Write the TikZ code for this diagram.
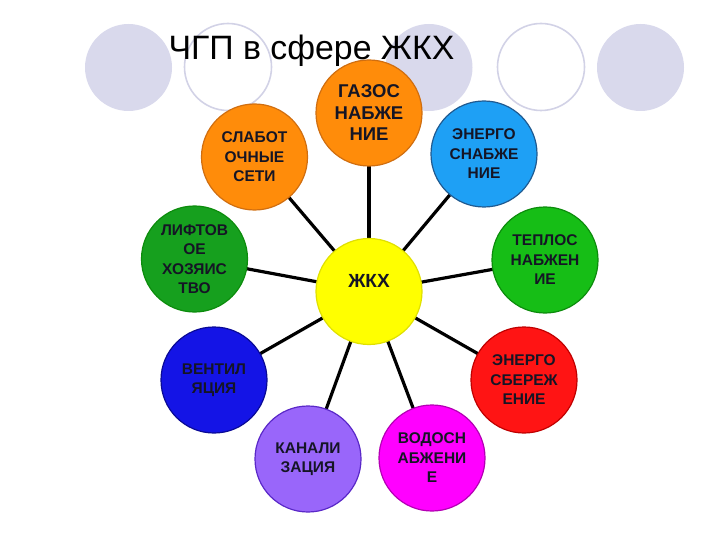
\documentclass[tikz,border=0pt]{standalone}
\usepackage{fontspec}
\setmainfont{Liberation Sans}
\usepackage{tikz}
\usetikzlibrary{shapes, backgrounds}
\definecolor{decofill}{HTML}{D9D9EC}
\definecolor{decoline}{HTML}{D2D2E6}
\definecolor{orangefill}{HTML}{FF8C0A}
\definecolor{orangeline}{HTML}{D06E10}
\definecolor{skyfill}{HTML}{1EA0F5}
\definecolor{skyline}{HTML}{205A90}
\definecolor{greenfill}{HTML}{16BE16}
\definecolor{greenline}{HTML}{0C8C0C}
\definecolor{darkgreenfill}{HTML}{16A01E}
\definecolor{bluefill}{HTML}{1414E6}
\definecolor{blueline}{HTML}{0A0A96}
\definecolor{purplefill}{HTML}{9966FA}
\definecolor{purpleline}{HTML}{5A28C8}
\definecolor{magentafill}{HTML}{FF00FF}
\definecolor{magentaline}{HTML}{B400B4}
\definecolor{redfill}{HTML}{FF1414}
\definecolor{redline}{HTML}{C00000}
\definecolor{yellowfill}{HTML}{FFFF00}
\definecolor{yellowline}{HTML}{E0E000}
\definecolor{txt}{HTML}{151525}
\tikzstyle{deco} = [circle, minimum size = 87pt, inner sep = 0pt]
\tikzstyle{decofull} = [deco, fill = decofill]
\tikzstyle{decoring} = [deco, draw = decoline, line width = 1.6pt]
\tikzstyle{snode} = [circle, minimum size = 106pt, inner sep = 0pt, line width = 1.2pt, align = center, text = txt, font = \fontsize{15.5}{19.5}\selectfont\bfseries]
\tikzstyle{line} = [draw, line width = 3.2pt]

\begin{document}
\begin{tikzpicture}[x=1pt, y=-1pt]
			\useasboundingbox (0,0) rectangle (720,540);
			% background circles
			\node [decofull] (d1) at (128.5, 67.5) {};
			\node [decoring] (d2) at (228, 67) {};
			\node [decofull] (d3) at (429, 67.5) {};
			\node [decoring] (d4) at (541, 67) {};
			\node [decofull] (d5) at (640.5, 67.5) {};
			\node [anchor=base, font=\fontsize{33.8}{40}\selectfont] (title) at (311.5, 60) {ЧГП в сфере ЖКХ};

			\node [snode, fill=yellowfill, draw=yellowline, label={[yshift=11pt, text=txt, font=\fontsize{19}{22}\selectfont\bfseries]center:ЖКХ}] (hub) at (369, 291.5) {};
			\node [snode, fill=orangefill, draw=orangeline, font=\fontsize{18.5}{21.5}\selectfont\bfseries] (gas) at (369, 113) {ГАЗОС\\НАБЖЕ\\НИЕ};
			\node [snode, fill=orangefill, draw=orangeline] (weak) at (254.5, 157) {СЛАБОТ\\ОЧНЫЕ\\СЕТИ};
			\node [snode, fill=skyfill, draw=skyline] (power) at (484, 154) {ЭНЕРГО\\СНАБЖЕ\\НИЕ};
			\node [snode, fill=greenfill, draw=greenline] (heat) at (545, 260) {ТЕПЛОС\\НАБЖЕН\\ИЕ};
			\node [snode, fill=darkgreenfill, draw=greenline] (lift) at (194.5, 259) {ЛИФТОВ\\ОЕ\\ХОЗЯИС\\ТВО};
			\node [snode, fill=bluefill, draw=blueline] (vent) at (214, 380) {ВЕНТИЛ\\ЯЦИЯ};
			\node [snode, fill=redfill, draw=redline] (save) at (524, 380) {ЭНЕРГО\\СБЕРЕЖ\\ЕНИЕ};
			\node [snode, fill=purplefill, draw=purpleline] (sewer) at (308, 459) {КАНАЛИ\\ЗАЦИЯ};
			\node [snode, fill=magentafill, draw=magentaline] (water) at (432, 458) {ВОДОСН\\АБЖЕНИ\\Е};

			\begin{pgfonlayer}{background}
			\path [line] (hub.center) -- (gas.center);
			\path [line] (hub.center) -- (weak.center);
			\path [line] (hub.center) -- (power.center);
			\path [line] (hub.center) -- (heat.center);
			\path [line] (hub.center) -- (lift.center);
			\path [line] (hub.center) -- (vent.center);
			\path [line] (hub.center) -- (save.center);
			\path [line] (hub.center) -- (sewer.center);
			\path [line] (hub.center) -- (water.center);
			\end{pgfonlayer}
		\end{tikzpicture}
\end{document}
